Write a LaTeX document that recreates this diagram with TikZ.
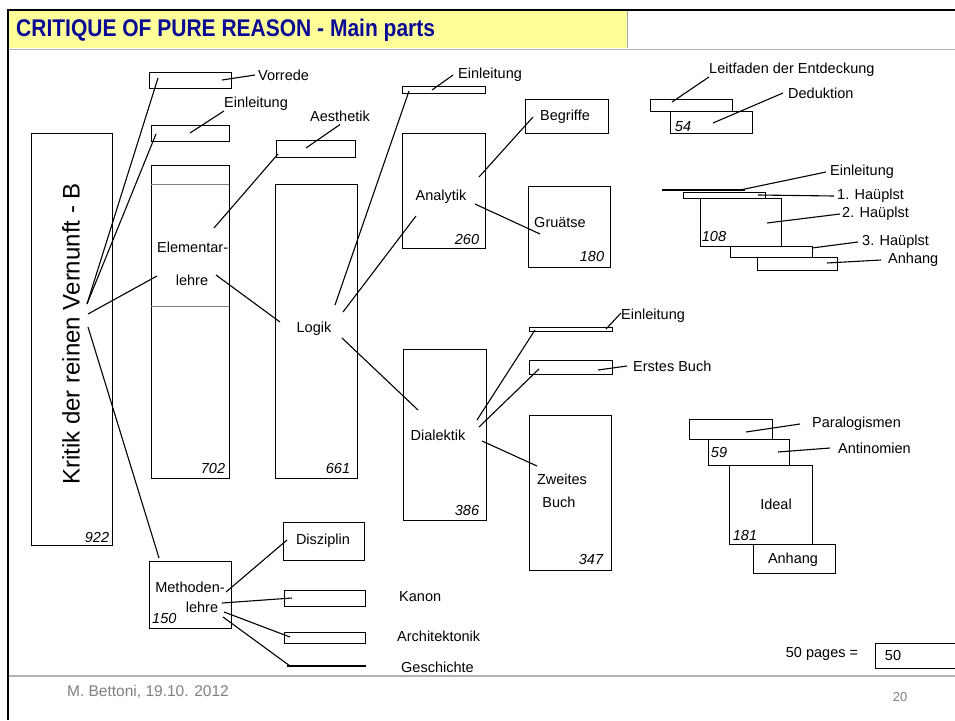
\documentclass[tikz,border=0pt]{standalone}
\usepackage{fontspec}
\setmainfont{Liberation Sans}
\usetikzlibrary{fit}
\definecolor{titleblue}{RGB}{10,10,150}
\definecolor{titleyellow}{RGB}{255,255,153}
\definecolor{footgray}{RGB}{128,128,128}

\begin{document}
\begin{tikzpicture}[x=1pt, y=-1pt,
  every node/.style={font=\fontsize{14.5}{16}\selectfont, inner sep=0pt},
  part/.style={draw, line width=.8pt, inner sep=0pt},
  lbl/.style={anchor=west},
  num/.style={font=\fontsize{14.5}{16}\selectfont\itshape},
  link/.style={line width=1.1pt}]
\useasboundingbox (0,0) rectangle (955,720);
% slide frame and title
\fill[titleyellow] (9,11) rectangle (627,48);
\draw[gray!70, line width=.6pt] (627,11) -- (627,48);
\draw[gray!60, line width=1pt] (9,49) -- (955,49);
\draw[gray!60, line width=1.5pt] (9,676) -- (955,676);
\draw[line width=2pt] (955,10) -- (8,10) -- (8,720);
\node[anchor=west, yscale=1.15, transform shape, font=\fontsize{21}{24}\selectfont\bfseries, text=titleblue] (title) at (16,30) {CRITIQUE OF PURE REASON - Main parts};
\node[font=\fontsize{15.5}{18}\selectfont, text=footgray] (author) at (148,692) {M. Bettoni, 19.10. 2012};
\node[font=\fontsize{13}{16}\selectfont, text=footgray] (page) at (900,697) {20};

% whole book
\node[part, fit={(31,133) (112,545)}] (kritik) {};
\node[rotate=90, font=\fontsize{24}{28}\selectfont] (kritikT) at (71,334) {Kritik der reinen Vernunft - B};
\node[num] (n922) at (97,537) {922};

% first column
\node[part, fit={(149,72) (231,88)}] (vorrede) {};
\node[lbl] (vorredeL) at (258,75) {Vorrede};
\node[part, fit={(151,125) (229,141)}] (einl) {};
\node[lbl] (einlL) at (224,104) {Einleitung};
\node[part, fit={(151,165) (229,478)}] (elem) {};
\draw[gray, line width=.5pt] (151,184) -- (229,184);
\draw[gray, line width=.5pt] (151,306) -- (229,306);
\node[lbl] (elemT) at (157,247) {Elementar-};
\node (elemT2) at (192,280) {lehre};
\node[num] (n702) at (213,469) {702};
\node[part, fit={(149,561) (231,628)}] (methoden) {};
\node (methT) at (190,587) {Methoden-};
\node (methT2) at (202,607) {lehre};
\node[num, anchor=west] (n150) at (152,618) {150};

% second column
\node[part, fit={(276,140) (355,157)}] (aesth) {};
\node[lbl] (aesthL) at (310,116) {Aesthetik};
\node[part, fit={(275,184) (357,478)}] (logik) {};
\node (logikT) at (314,329) {Logik};
\node[num] (n661) at (338,469) {661};
\node[part, fit={(283,522) (364,560)}] (diszi) {};
\node (disziT) at (323,541) {Disziplin};
\node[part, fit={(284,590) (365,606)}] (kanon) {};
\node[lbl] (kanonL) at (399,597) {Kanon};
\node[part, fit={(284,632) (365,643)}] (archi) {};
\node[lbl] (archiL) at (397,636) {Architektonik};
\draw[line width=1.8pt] (287,666) -- (366,666);
\node[lbl] (geschL) at (401,667) {Geschichte};

% third column
\node[part, fit={(402,86) (485,93)}] (einlA) {};
\node[lbl] (einlAL) at (458,75) {Einleitung};
\node[part, fit={(402,133) (485,248)}] (analytik) {};
\node (analytikT) at (441,197) {Analytik};
\node[num] (n260) at (467,240) {260};
\node[part, fit={(403,349) (486,520)}] (dialektik) {};
\node (dialektikT) at (438,435) {Dialektik};
\node[num] (n386) at (467,511) {386};

% fourth column
\node[part, fit={(525,99) (608,133)}] (begriffe) {};
\node (begriffeT) at (565,117) {Begriffe};
\node[part, fit={(528,186) (610,267)}] (grunds) {};
\node (grundsT) at (560,223) {Gruätse};
\node[num] (n180) at (592,257) {180};
\node[part, fit={(529,327) (612,331)}] (einlD) {};
\node[lbl] (einlDL) at (621,316) {Einleitung};
\node[part, fit={(529,360) (612,374)}] (erstes) {};
\node[lbl] (erstesL) at (633,366) {Erstes Buch};
\node[part, fit={(529,415) (611,570)}] (zweites) {};
\node (zweitesT) at (562,479) {Zweites};
\node (zweitesT2) at (559,502) {Buch};
\node[num] (n347) at (591,559) {347};

% Analytik parts
\node[part, fit={(650,99) (732,111)}] (leitf) {};
\node[lbl] (leitfL) at (709,70) {Leitfaden der Entdeckung};
\node[part, fit={(670,111) (752,133)}] (dedukt) {};
\node[lbl] (deduktL) at (788,93) {Deduktion};
\node[num] (n54) at (683,127) {54};
\draw[line width=1.8pt] (662,190) -- (745,190);
\node[lbl] (einlEL) at (830,172) {Einleitung};
\node[part, fit={(683,192) (765,198)}] (haupt1) {};
\node[lbl] (haupt1L) at (837,196) {1. Haüplst};
\node[part, fit={(700,198) (781,246)}] (haupt2) {};
\node[lbl] (haupt2L) at (842,214) {2. Haüplst};
\node[num] (n108) at (714,237) {108};
\node[part, fit={(730,246) (812,257)}] (haupt3) {};
\node[lbl] (haupt3L) at (862,242) {3. Haüplst};
\node[part, fit={(757,257) (837,270)}] (anhangA) {};
\node[lbl] (anhangAL) at (888,260) {Anhang};

% Dialektik parts
\node[part, fit={(689,419) (772,439)}] (paralog) {};
\node[lbl] (paralogL) at (812,424) {Paralogismen};
\node[part, fit={(708,439) (789,465)}] (antinom) {};
\node[lbl] (antinomL) at (838,448) {Antinomien};
\node[num] (n59) at (719,453) {59};
\node[part, fit={(729,465) (812,544)}] (ideal) {};
\node (idealT) at (776,504) {Ideal};
\node[num] (n181) at (745,536) {181};
\node[part, fit={(753,544) (835,573)}] (anhangD) {};
\node (anhangDT) at (793,560) {Anhang};

% scale
\node (scaleL) at (822,654) {50 pages =};
\node[part, line width=1pt, fit={(875,643) (962,668)}] (scale) {};
\node (scaleT) at (893,655) {50};

% connector ends
\coordinate (kra) at (87,304);
\coordinate (krb) at (88,314);
\coordinate (krc) at (88,327);
\coordinate (vo) at (158,78);
\coordinate (vo2) at (222,80);
\coordinate (ei) at (156,134);
\coordinate (ei2) at (190,133);
\coordinate (el) at (157,276);
\coordinate (el2) at (214,228);
\coordinate (el3) at (216,275);
\coordinate (ae) at (278,154);
\coordinate (ae2) at (306,148);
\coordinate (me) at (159,558);
\coordinate (lo) at (280,322);
\coordinate (lo2) at (335,305);
\coordinate (lo3) at (343,312);
\coordinate (lo4) at (342,338);
\coordinate (ea) at (409,91);
\coordinate (ea2) at (432,90);
\coordinate (an) at (416,216);
\coordinate (an2) at (479,177);
\coordinate (an3) at (475,204);
\coordinate (di) at (418,410);
\coordinate (di2) at (477,420);
\coordinate (di3) at (479,427);
\coordinate (di4) at (482,441);
\coordinate (be) at (533,117);
\coordinate (gr) at (540,234);
\coordinate (ed) at (535,330);
\coordinate (ed2) at (606,329);
\coordinate (er) at (539,369);
\coordinate (er2) at (598,370);
\coordinate (zw) at (537,466);
\coordinate (md) at (226,592);
\coordinate (md2) at (222,603);
\coordinate (md3) at (224,612);
\coordinate (md4) at (223,617);
\coordinate (ds) at (287,540);
\coordinate (ka) at (292,598);
\coordinate (ar) at (290,637);
\coordinate (ge) at (290,666);
\coordinate (lf) at (672,102);
\coordinate (de) at (713,123);
\coordinate (ee) at (740,190);
\coordinate (h1) at (758,195);
\coordinate (h2) at (767,223);
\coordinate (h3) at (812,248);
\coordinate (ah) at (827,263);
\coordinate (pa) at (746,432);
\coordinate (at) at (778,452);

% connectors
\draw[link] (kra) -- (vo);
\draw[link] (kra) -- (ei);
\draw[link] (krb) -- (el);
\draw[link] (krc) -- (me);
\draw[link] (vo2) -- ([xshift=-3pt]vorredeL.west);
\draw[link] (ei2) -- (einlL.south west);
\draw[link] (ae2) -- ([yshift=-3pt]aesthL.south);
\draw[link] (el2) -- (ae);
\draw[link] (el3) -- (lo);
\draw[link] (lo2) -- (ea);
\draw[link] (ea2) -- ([xshift=-5pt]einlAL.west);
\draw[link] (lo3) -- (an);
\draw[link] (lo4) -- (di);
\draw[link] (an2) -- (be);
\draw[link] (an3) -- (gr);
\draw[link] (di2) -- (ed);
\draw[link] (di3) -- (er);
\draw[link] (di4) -- (zw);
\draw[link] (ed2) -- ([yshift=3pt]einlDL.west);
\draw[link] (er2) -- ([xshift=-6pt]erstesL.west);
\draw[link] (md) -- (ds);
\draw[link] (md2) -- (ka);
\draw[link] (md3) -- (ar);
\draw[link] (md4) -- (ge);
\draw[link] (lf) -- (leitfL.south west);
\draw[link] (de) -- ([xshift=-5pt]deduktL.west);
\draw[link] (ee) -- ([xshift=-4pt]einlEL.west);
\draw[link] (h1) -- ([xshift=-3pt]haupt1L.west);
\draw[link] (h2) -- ([xshift=-2pt]haupt2L.west);
\draw[link] (h3) -- ([xshift=-4pt]haupt3L.west);
\draw[link] (ah) -- ([xshift=-7pt]anhangAL.west);
\draw[link] (pa) -- ([xshift=-12pt]paralogL.west);
\draw[link] (at) -- ([xshift=-8pt]antinomL.west);
\end{tikzpicture}
\end{document}
